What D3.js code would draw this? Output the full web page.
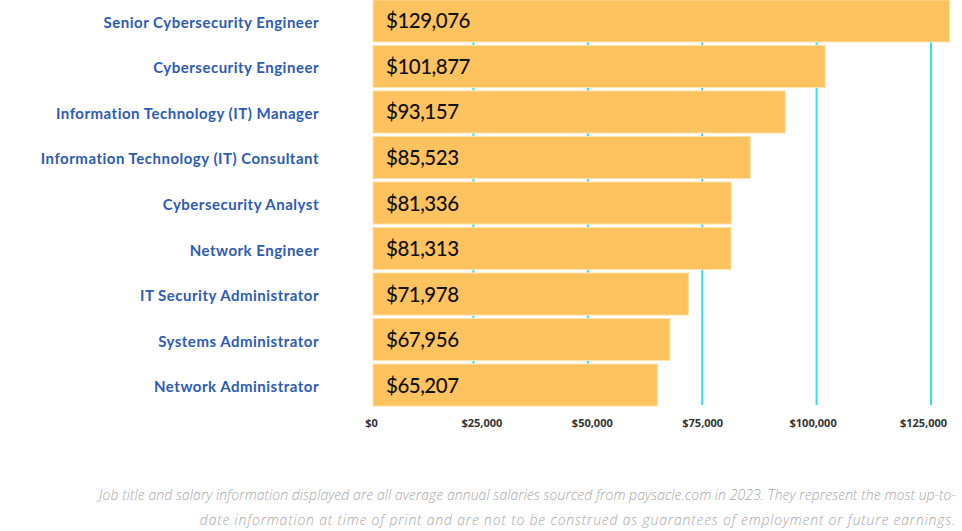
<!DOCTYPE html>
<html><head><meta charset="utf-8">
<script src="https://cdn.jsdelivr.net/npm/d3@7"></script>
<style>
html,body{margin:0;padding:0;background:#fff;}
svg{display:block;}
</style></head>
<body><svg id="c" width="962" height="531"></svg>
<script>
const categories = [
  "Senior Cybersecurity Engineer",
  "Cybersecurity Engineer",
  "Information Technology (IT) Manager",
  "Information Technology (IT) Consultant",
  "Cybersecurity Analyst",
  "Network Engineer",
  "IT Security Administrator",
  "Systems Administrator",
  "Network Administrator"
];
const salaries = [129076, 101877, 93157, 85523, 81336, 81313, 71978, 67956, 65207];
const tickValues = [0, 25000, 50000, 75000, 100000, 125000];
const footnote = [
  "Job title and salary information displayed are all average annual salaries sourced from paysacle.com in 2023. They represent the most up-to-",
  "date information at time of print and are not to be construed as guarantees of employment or future earnings."
];
const footnoteSpacing = [0.06, 0.8];

const svg = d3.select("#c");
const x = d3.scaleLinear().domain([0, 125000]).range([359, 931]);
const xLab = d3.scaleLinear().domain([0, 125000]).range([371, 923]);
const y = d3.scaleBand().domain(categories).range([-1, 407]).paddingInner(0.075).paddingOuter(0.02);
const barLeft = 373;
const fmt = d3.format(",");

// gridlines (behind bars)
svg.append("g").selectAll("line").data(tickValues.filter(d => d > 0)).join("line")
  .attr("x1", d => x(d)).attr("x2", d => x(d))
  .attr("y1", 0).attr("y2", 405)
  .attr("stroke", "#30e3f2").attr("stroke-width", 2);

// bars
svg.append("g").selectAll("rect").data(salaries).join("rect")
  .attr("x", barLeft)
  .attr("y", (d, i) => y(categories[i]))
  .attr("width", d => x(d) - barLeft)
  .attr("height", y.bandwidth())
  .attr("fill", "#fec35f")
  .attr("stroke", "#ffe4b0").attr("stroke-width", 1);

// value labels
svg.append("g").selectAll("text").data(salaries).join("text")
  .attr("x", 386)
  .attr("y", (d, i) => y(categories[i]) + y.bandwidth() / 2 + 7.5)
  .attr("font-family", "Lato, 'Open Sans', sans-serif")
  .attr("font-size", 20.5).attr("font-weight", 500)
  .attr("letter-spacing", -0.5)
  .attr("fill", "#111")
  .text(d => "$" + fmt(d));

// category labels
svg.append("g").selectAll("text").data(categories).join("text")
  .attr("x", 319)
  .attr("y", d => y(d) + y.bandwidth() / 2 + 7)
  .attr("text-anchor", "end")
  .attr("font-family", "Lato, 'Open Sans', sans-serif")
  .attr("font-size", 15).attr("font-weight", 700)
  .attr("letter-spacing", 0.5)
  .attr("fill", "#2d5bb5")
  .text(d => d);

// x axis labels
const ax = svg.append("g").attr("transform", "translate(0,419)")
  .call(d3.axisBottom(xLab).tickValues(tickValues).tickSize(0).tickPadding(0)
    .tickFormat(d => "$" + fmt(d)));
ax.select(".domain").remove();
ax.selectAll("text")
  .attr("font-family", "'Open Sans', sans-serif")
  .attr("font-size", 11).attr("font-weight", 700)
  .attr("fill", "#333");

// footnote
svg.append("g").selectAll("text").data(footnote).join("text")
  .attr("x", 956)
  .attr("y", (d, i) => 500 + i * 24.5)
  .attr("text-anchor", "end")
  .attr("font-family", "'Open Sans', sans-serif")
  .attr("font-style", "italic").attr("font-weight", 300)
  .attr("font-size", 14)
  .attr("letter-spacing", (d, i) => footnoteSpacing[i])
  .attr("fill", "#a8a8a8")
  .text(d => d);
</script>
</body></html>
